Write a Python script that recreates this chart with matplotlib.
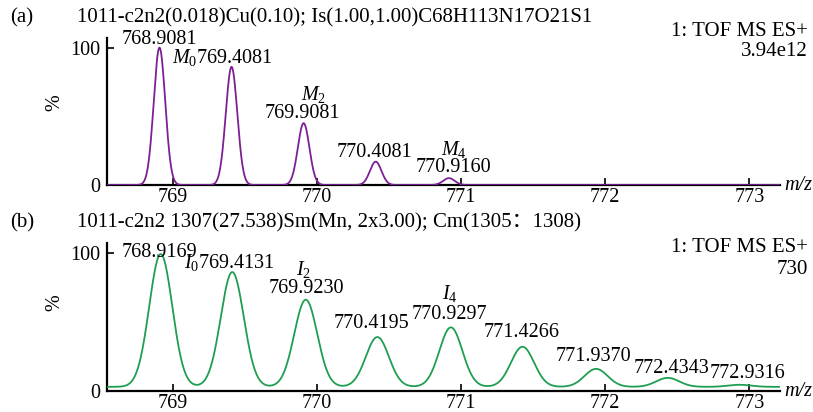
import numpy as np
import matplotlib
matplotlib.use("Agg")
import matplotlib.pyplot as plt

plt.rcParams['font.family'] = ['Liberation Serif', 'DejaVu Serif']
plt.rcParams['mathtext.fontset'] = 'custom'
plt.rcParams['mathtext.rm'] = 'Liberation Serif'
plt.rcParams['mathtext.it'] = 'Liberation Serif:italic'

# ---- data ----
xticks = [769, 770, 771, 772, 773]
yticks = [0, 100]

a_centers = [768.9081, 769.4081, 769.9081, 770.4081, 770.9160]
a_heights = [100, 86, 45, 17, 5]
a_sigma = 0.040
a_base = 0.0

b_centers = [768.9169, 769.4131, 769.9230, 770.4195, 770.9297, 771.4266, 771.9370, 772.4343, 772.9316]
b_heights = [99, 86, 66, 39, 46, 32, 16, 9.5, 4.5]
b_sigma = 0.08
b_base = 3.0

a_title = "1011-c2n2(0.018)Cu(0.10); Is(1.00,1.00)C68H113N17O21S1"
b_title = "1011-c2n2 1307(27.538)Sm(Mn, 2x3.00); Cm(1305\uff1a1308)"
a_right = ["1: TOF MS ES+", "3.94e12"]
b_right = ["1: TOF MS ES+", "730"]

# labels: (text, x, y, ha)
a_labels = [("768.9081", 768.91, 106, 'center'), (r"$M_0$769.4081", 768.993, 93, 'left'),
            (r"$M_2$", 769.98, 66, 'center'), ("769.9081", 769.90, 52, 'center'),
            ("770.4081", 770.40, 24, 'center'),
            (r"$M_4$", 770.95, 25.5, 'center'), ("770.9160", 770.95, 12.5, 'center')]
b_labels = [("768.9169", 768.91, 100, 'center'), (r"$I_0$769.4131", 769.075, 93, 'left'),
            (r"$I_2$", 769.91, 87.5, 'center'), ("769.9230", 769.93, 74, 'center'),
            ("770.4195", 770.38, 49, 'center'),
            (r"$I_4$", 770.92, 70.5, 'center'), ("770.9297", 770.92, 55, 'center'),
            ("771.4266", 771.42, 42, 'center'), ("771.9370", 771.92, 25, 'center'),
            ("772.4343", 772.46, 16.5, 'center'), ("772.9316", 772.99, 13, 'center')]

XMIN, XMAX = 768.544, 773.213
fs = 14.5

fig = plt.figure(figsize=(8.13, 4.12), dpi=100)
W, H = 813, 412
def ax_rect(l, r, t, b):
    return [l / W, 1 - b / H, (r - l) / W, (b - t) / H]

ax1 = fig.add_axes(ax_rect(107, 780, 38, 185))
ax2 = fig.add_axes(ax_rect(107, 780, 243, 391))

x = np.linspace(XMIN, XMAX, 2000)

def profile(centers, heights, sigma, base):
    y = np.full_like(x, base)
    for c, h in zip(centers, heights):
        y += (h - base) * np.exp(-0.5 * ((x - c) / sigma) ** 2)
    return y

ax1.plot(x, profile(a_centers, a_heights, a_sigma, a_base), color='#7d1f95', lw=1.3, zorder=3)
ax2.plot(x, profile(b_centers, b_heights, b_sigma, b_base), color='#1f9e52', lw=1.3, zorder=3)

for ax, labels in ((ax1, a_labels), (ax2, b_labels)):
    ax.set_xlim(XMIN, XMAX)
    ax.set_ylim(0, 107)
    for s in ('top', 'right'):
        ax.spines[s].set_visible(False)
    for s in ('left', 'bottom'):
        ax.spines[s].set_linewidth(1.6)
    ax.set_xticks(xticks)
    ax.set_yticks(yticks)
    ax.tick_params(direction='in', length=5, width=1.2, labelsize=fs, pad=2)
    ax.tick_params(axis='y', pad=5)
    for t, xx, yy, ha in labels:
        ax.text(xx, yy, t, fontsize=fs, ha=ha, va='center', clip_on=False)
    ax.text(1.007, 0, 'm/z', transform=ax.transAxes, fontsize=fs, style='italic',
            ha='left', va='center')

fig.text(55 / W, 1 - 103 / H, '%', fontsize=fs, rotation=90, ha='center', va='center')
fig.text(55 / W, 1 - 303 / H, '%', fontsize=fs, rotation=90, ha='center', va='center')

tfs = 15
fig.text(10 / W, 1 - 18 / H, '(a)', fontsize=tfs, va='center', ha='left')
fig.text(77 / W, 1 - 18 / H, a_title, fontsize=tfs, va='center', ha='left')
fig.text(808 / W, 1 - 32 / H, a_right[0], fontsize=tfs, va='center', ha='right')
fig.text(808 / W, 1 - 52 / H, a_right[1], fontsize=tfs, va='center', ha='right')

fig.text(10 / W, 1 - 223 / H, '(b)', fontsize=tfs, va='center', ha='left')
fig.text(77 / W, 1 - 223 / H, b_title, fontsize=tfs, va='center', ha='left',
         family=['Liberation Serif', 'Noto Sans CJK SC'])
fig.text(808 / W, 1 - 248 / H, b_right[0], fontsize=tfs, va='center', ha='right')
fig.text(808 / W, 1 - 270 / H, b_right[1], fontsize=tfs, va='center', ha='right')

fig.savefig('out.png', dpi=100)
